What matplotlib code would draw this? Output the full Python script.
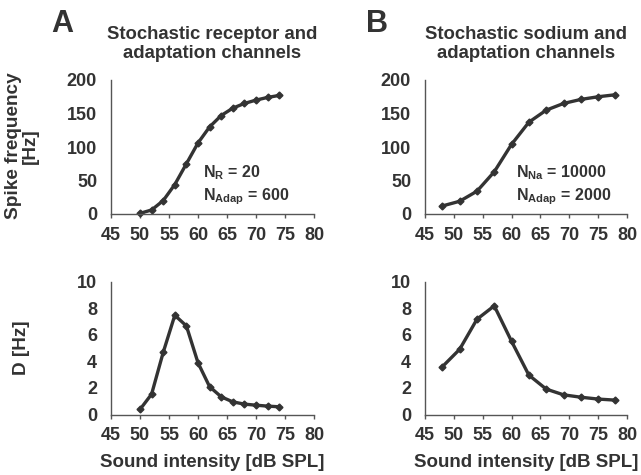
import matplotlib
matplotlib.use("Agg")
import matplotlib.pyplot as plt

plt.rcParams['font.family'] = ['Liberation Sans', 'DejaVu Sans']
plt.rcParams['font.weight'] = 'bold'
plt.rcParams['mathtext.fontset'] = 'custom'
plt.rcParams['mathtext.rm'] = 'Liberation Sans:bold'
plt.rcParams['mathtext.bf'] = 'Liberation Sans:bold'

# Panel A: stochastic receptor and adaptation channels
xA = [50, 52, 54, 56, 58, 60, 62, 64, 66, 68, 70, 72, 74]
rateA = [1, 6, 20, 44, 75, 106, 130, 147, 158, 165, 170, 174, 177]
dA = [0.38, 1.53, 4.67, 7.46, 6.66, 3.89, 2.09, 1.33, 0.95, 0.78, 0.70, 0.63, 0.58]

# Panel B: stochastic sodium and adaptation channels
xB = [48, 51, 54, 57, 60, 63, 66, 69, 72, 75, 78]
rateB = [12, 19, 34, 63, 104, 137, 155, 165, 171, 175, 178]
dB = [3.59, 4.90, 7.16, 8.17, 5.50, 2.96, 1.91, 1.48, 1.30, 1.16, 1.08]

xticks = [45, 50, 55, 60, 65, 70, 75, 80]
rate_ticks = [0, 50, 100, 150, 200]
d_ticks = [0, 2, 4, 6, 8, 10]

C = '#333333'
SP = '#555555'

fig = plt.figure(figsize=(6.41, 4.75), dpi=100)
W, H = 641, 475

def ax_at(x0, x1, ytop, ybot):
    return fig.add_axes([x0 / W, 1 - ybot / H, (x1 - x0) / W, (ybot - ytop) / H])

axA1 = ax_at(111, 314, 80, 214)
axB1 = ax_at(425, 627, 80, 214)
axA2 = ax_at(111, 314, 281.5, 414.5)
axB2 = ax_at(425, 627, 281.5, 414.5)

def style(ax, yticks):
    ax.set_xlim(45, 80)
    ax.set_xticks(xticks)
    ax.set_ylim(yticks[0], yticks[-1])
    ax.set_yticks(yticks)
    for s in ['top', 'right']:
        ax.spines[s].set_visible(False)
    for s in ['left', 'bottom']:
        ax.spines[s].set_color(SP)
        ax.spines[s].set_linewidth(1.0)
    ax.tick_params(axis='x', direction='out', length=3, width=1, color=SP,
                   labelsize=13, labelcolor=C, pad=6)
    ax.tick_params(axis='y', length=0, labelsize=13, labelcolor=C, pad=10)
    for lab in ax.get_xticklabels() + ax.get_yticklabels():
        lab.set_fontweight('bold')

def plot(ax, x, y):
    ax.plot(x, y, color=C, lw=2.4, marker='D', ms=3.5, mfc=C, mec=C, clip_on=False)

plot(axA1, xA, rateA)
plot(axB1, xB, rateB)
plot(axA2, xA, dA)
plot(axB2, xB, dB)
for ax in (axA1, axB1):
    style(ax, rate_ticks)
for ax in (axA2, axB2):
    style(ax, d_ticks)

fig.text(22 / W, 1 - 146 / H, 'Spike frequency\n[Hz]', rotation=90, ha='center',
         va='center', fontsize=13.7, fontweight='bold', color=C, linespacing=0.95)
fig.text(22 / W, 1 - 348 / H, 'D [Hz]', rotation=90, ha='center',
         va='center', fontsize=13.7, fontweight='bold', color=C)
for ax in (axA2, axB2):
    ax.set_xlabel('Sound intensity [dB SPL]', fontsize=13.5, fontweight='bold', color=C,
                  labelpad=7)

fig.text(212 / W, 1 - 44 / H, 'Stochastic receptor and\nadaptation channels',
         ha='center', va='center', fontsize=13.3, fontweight='bold', color=C,
         linespacing=1.15)
fig.text(526 / W, 1 - 44 / H, 'Stochastic sodium and\nadaptation channels',
         ha='center', va='center', fontsize=13.3, fontweight='bold', color=C,
         linespacing=1.15)
fig.text(51 / W, 1 - 32 / H, 'A', fontsize=22, fontweight='bold', color=C)
fig.text(366 / W, 1 - 32 / H, 'B', fontsize=22, fontweight='bold', color=C)

axA1.text(0.455, 0.215, r'N$_\mathrm{R}$ = 20' + '\n' + r'N$_\mathrm{Adap}$ = 600',
          transform=axA1.transAxes, fontsize=11.5, fontweight='bold', color=C,
          va='center', ha='left', linespacing=1.3)
axB1.text(0.45, 0.215, r'N$_\mathrm{Na}$ = 10000' + '\n' + r'N$_\mathrm{Adap}$ = 2000',
          transform=axB1.transAxes, fontsize=11.5, fontweight='bold', color=C,
          va='center', ha='left', linespacing=1.3)

fig.savefig('out.png', dpi=100, facecolor='white')
